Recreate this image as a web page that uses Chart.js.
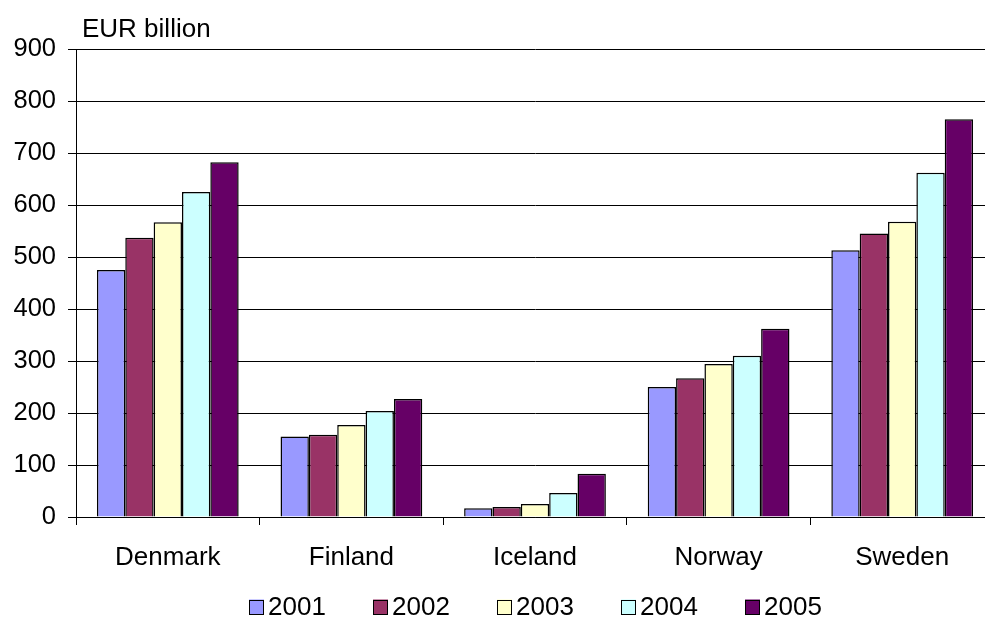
<!DOCTYPE html>
<html lang="en">
<head>
  <meta charset="UTF-8">
  <title>EUR billion by country</title>
  <script src="https://cdn.jsdelivr.net/npm/chart.js"></script>
  <style>
    html, body {
      margin: 0;
      padding: 0;
      background: white;
      overflow: hidden;
    }
    #wrap {
      position: relative;
      width: 1000px;
      height: 619px;
    }
  </style>
</head>
<body>
  <div id="wrap">
    <canvas id="chart"></canvas>
  </div>

  <script type="text/javascript">
    const countries = ['Denmark', 'Finland', 'Iceland', 'Norway', 'Sweden'];
    const years = ['2001', '2002', '2003', '2004', '2005'];
    const v2001 = [475, 155, 17, 250, 513];
    const v2002 = [537, 158, 19, 267, 545];
    const v2003 = [567, 177, 25, 294, 568];
    const v2004 = [625, 204, 46, 310, 662];
    const v2005 = [682, 227, 83, 362, 765];
    const yearColors = ['#9999FF', '#993366', '#FFFFCC', '#CCFFFF', '#660066'];
    const yTicks = [0, 100, 200, 300, 400, 500, 600, 700, 800, 900];
    const unitLabel = 'EUR billion';

    const FONT = 'Liberation Sans, Arial, sans-serif';
    const series = [v2001, v2002, v2003, v2004, v2005];

    // title over the y axis + legend drawn by hand (tight box/text gap like the original)
    const extras = {
      id: 'extras',
      afterDraw(chart) {
        const ctx = chart.ctx;
        const area = chart.chartArea;
        ctx.save();
        ctx.fillStyle = '#000';
        ctx.font = '26px ' + FONT;
        ctx.textBaseline = 'alphabetic';
        ctx.textAlign = 'left';
        ctx.fillText(unitLabel, area.left + 6, area.top - 12);

        const step = 124;
        const box = 15;
        const lastW = box + 4 + ctx.measureText(years[years.length - 1]).width;
        const total = step * (years.length - 1) + lastW;
        let x = Math.round((area.left + area.right) / 2 - total / 2);
        const cy = 607;
        ctx.textBaseline = 'middle';
        chart.data.datasets.forEach(ds => {
          ctx.fillStyle = ds.backgroundColor;
          ctx.fillRect(x, cy - box / 2, box, box);
          ctx.strokeStyle = '#000';
          ctx.lineWidth = 1;
          ctx.strokeRect(x + 0.5, Math.round(cy - box / 2) + 0.5, box - 1, box - 1);
          ctx.fillStyle = '#000';
          ctx.fillText(ds.label, x + box + 4, cy + 1);
          x += step;
        });
        ctx.restore();
      }
    };

    new Chart(document.getElementById('chart'), {
      type: 'bar',
      data: {
        labels: countries,
        datasets: years.map((y, i) => ({
          label: y,
          data: series[i],
          backgroundColor: yearColors[i],
          borderColor: '#000',
          borderWidth: 1.5,
          categoryPercentage: 0.772,
          barPercentage: 1.0
        }))
      },
      options: {
        responsive: true,
        maintainAspectRatio: false,
        animation: false,
        layout: { padding: { top: 49, right: 6, bottom: 42, left: 0 } },
        plugins: {
          legend: { display: false },
          tooltip: { enabled: false }
        },
        scales: {
          x: {
            grid: {
              offset: true,
              drawOnChartArea: false,
              color: '#000',
              tickLength: 8
            },
            border: { color: '#000', width: 1 },
            ticks: {
              color: '#000',
              font: { family: FONT, size: 26 },
              padding: 17
            },
            afterFit(scale) { scale.height = 60; }
          },
          y: {
            min: 0,
            max: 900,
            afterBuildTicks(scale) { scale.ticks = yTicks.map(v => ({ value: v })); },
            grid: {
              color: '#000',
              lineWidth: 1,
              tickLength: 8
            },
            border: { color: '#000', width: 1 },
            ticks: {
              color: '#000',
              font: { family: FONT, size: 25.5 },
              padding: 12
            },
            afterFit(scale) { scale.width = 76; }
          }
        }
      },
      plugins: [extras]
    });
  </script>
</body>
</html>
